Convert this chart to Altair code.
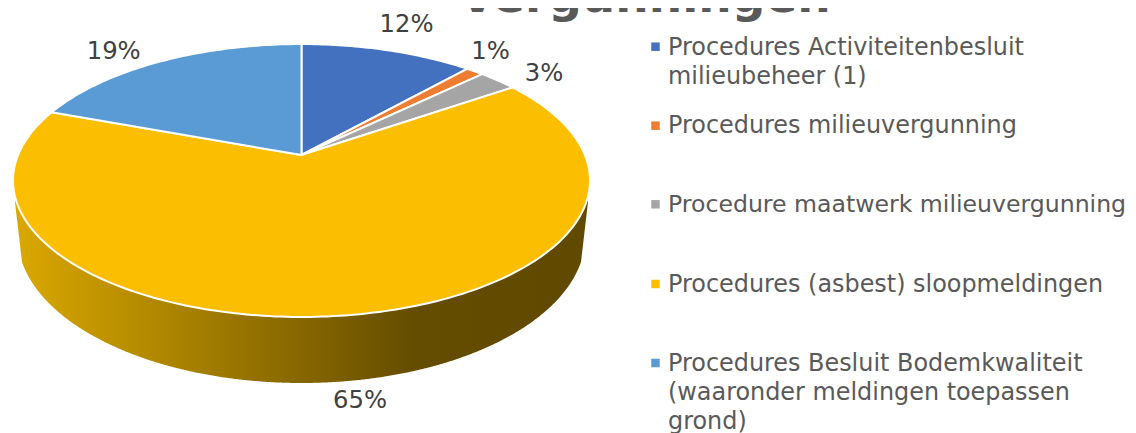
import altair as alt
import numpy as np
import pandas as pd

# --- chart values ---
categories = [
    "Procedures Activiteitenbesluit milieubeheer (1)",
    "Procedures milieuvergunning",
    "Procedure maatwerk milieuvergunning",
    "Procedures (asbest) sloopmeldingen",
    "Procedures Besluit Bodemkwaliteit (waaronder meldingen toepassen grond)",
]
shares = [11.6, 1.2, 2.6, 65.2, 19.4]
legend_lines = [
    ["Procedures Activiteitenbesluit", "milieubeheer (1)"],
    ["Procedures milieuvergunning"],
    ["Procedure maatwerk milieuvergunning"],
    ["Procedures (asbest) sloopmeldingen"],
    ["Procedures Besluit Bodemkwaliteit", "(waaronder meldingen toepassen", "grond)"],
]
title_text = "Vergunningen"

# --- styles / layout (page pixels) ---
colors = ["#4371C0", "#ED7D31", "#A5A5A5", "#FBBE00", "#5B9BD5"]
label_pos = [(406.5, 32), (490.5, 59), (544, 81), (360, 408), (113.7, 59.3)]
legend_base = [55, 133.3, 212.3, 292, 371]
legend_font = [23.9, 23.9, 23.6, 23.9, 23.9]
marker_y = [46.7, 125.7, 204.3, 284, 363]
line_gap = 28.8
W, H = 1120, 425

X = alt.X("x:Q", scale=alt.Scale(domain=[8, 8 + W], nice=False, zero=False), axis=None)
Y = alt.Y("y:Q", scale=alt.Scale(domain=[8 + H, 8], nice=False, zero=False), axis=None)

# Perspective projection of the pie disc
x0, y0 = 301.5, 155.0
a, b, k = 283.4, 131.7, 0.1868


def project(theta):
    w = 1 + k * np.cos(theta)
    return x0 + a * np.sin(theta) / w, y0 - b * np.cos(theta) / w


# Side wall under the front rim: top rim ellipse, lower rim ellipse, slanted ends
cx, cy, rx, ry = 301.5, 180.5, 288.5, 136.5
bc, br, bR = 236.0, 147.0, 284.0
xL, xR, xA, xB, yA = 22.0, 581.0, 15.0, 588.0, 202.0


def lower(x):
    return bc + br * np.sqrt(np.clip(1 - ((x - cx) / bR) ** 2, 0, 1))


xs = np.r_[np.linspace(xA, xL, 12)[:-1], np.linspace(xL, xR, 400), np.linspace(xR, xB, 12)[1:]]
top = cy + ry * np.sqrt(np.clip(1 - ((xs - cx) / rx) ** 2, 0, 1))
bot = lower(xs)
left = xs < xL
right = xs > xR
bot[left] = yA + (xs[left] - xA) / (xL - xA) * (lower(xL) - yA)
bot[right] = yA + (xB - xs[right]) / (xB - xR) * (lower(xR) - yA)
wall = pd.DataFrame({"x": xs, "y": top, "y2": np.maximum(bot, top)})
wall_layer = alt.Chart(wall).mark_area(
    color=alt.Gradient(
        gradient="linear", x1=0, x2=1, y1=0, y2=0,
        stops=[
            alt.GradientStop(color="#DAA800", offset=0),
            alt.GradientStop(color="#644C00", offset=0.70),
            alt.GradientStop(color="#604900", offset=1),
        ],
    )
).encode(x=X, y=Y, y2="y2:Q")

# Top wedges
layers = [wall_layer]
cum = np.cumsum([0] + shares) / sum(shares) * 2 * np.pi
for i, col in enumerate(colors):
    n = max(4, int((cum[i + 1] - cum[i]) * 60))
    th = np.linspace(cum[i], cum[i + 1], n)
    px, py = project(th)
    df = pd.DataFrame({
        "x": np.r_[x0, px, x0],
        "y": np.r_[y0, py, y0],
        "o": np.arange(n + 2),
    })
    layers.append(
        alt.Chart(df).mark_line(fill=col, stroke="white", strokeWidth=2, strokeJoin="round")
        .encode(x=X, y=Y, order="o:Q")
    )

# Percent labels
labels = pd.DataFrame({
    "x": [p[0] for p in label_pos],
    "y": [p[1] for p in label_pos],
    "t": [f"{round(s)}%" for s in shares],
})
layers.append(
    alt.Chart(labels).mark_text(font="DejaVu Sans", fontSize=24.3, color="#404040", baseline="alphabetic")
    .encode(x=X, y=Y, text="t:N")
)

# Legend drawn by hand for its even spacing and wrapped labels
rows = []
for ly, fs, lines in zip(legend_base, legend_font, legend_lines):
    for j, line in enumerate(lines):
        rows.append({"x": 668, "y": ly + j * line_gap, "t": line, "fs": fs})
layers.append(
    alt.Chart(pd.DataFrame(rows)).mark_text(
        font="DejaVu Sans", color="#595959", align="left", baseline="alphabetic"
    ).encode(x=X, y=Y, text="t:N", size=alt.Size("fs:Q", scale=None, legend=None))
)
marks = pd.DataFrame({"x": [655.5] * 5, "y": marker_y, "c": categories})
layers.append(
    alt.Chart(marks).mark_square(size=72, opacity=1).encode(
        x=X, y=Y,
        color=alt.Color("c:N", scale=alt.Scale(domain=categories, range=colors), legend=None),
    )
)

# Title, cut off by the top edge
layers.append(
    alt.Chart(pd.DataFrame({"x": [645], "y": [12], "t": [title_text]})).mark_text(
        font="DejaVu Sans", fontSize=47, fontWeight="bold", color="#595959", baseline="alphabetic"
    ).encode(x=X, y=Y, text="t:N")
)

chart = alt.layer(*layers).properties(
    width=W, height=H, padding=0, autosize=alt.AutoSizeParams(type="none")
).configure_view(stroke=None)

chart.save("out.html", embed_options={"renderer": "svg", "actions": False})
